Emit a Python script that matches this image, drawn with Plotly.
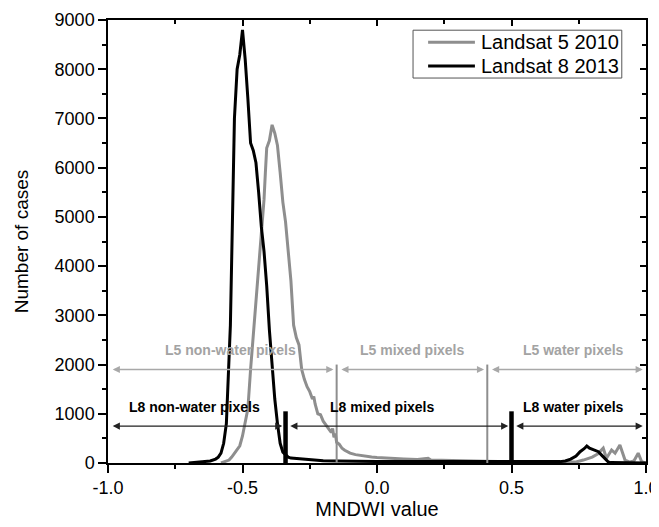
import plotly.graph_objects as go

# ---------------- data ----------------
series_names = ["Landsat 5 2010", "Landsat 8 2013"]

l8_x = [-0.70, -0.66, -0.62, -0.60, -0.59, -0.58, -0.57, -0.56, -0.55, -0.545, -0.54, -0.535, -0.53,
        -0.52, -0.51, -0.50, -0.49, -0.48, -0.47, -0.46, -0.45, -0.44, -0.43, -0.42, -0.41, -0.40,
        -0.39, -0.38, -0.37, -0.36, -0.35, -0.34, -0.33, -0.32, -0.30, -0.28, -0.25, -0.20, -0.15,
        -0.10, -0.05, 0.0, 0.1, 0.2, 0.3, 0.4, 0.5, 0.6, 0.68, 0.70, 0.72, 0.74, 0.755, 0.77, 0.78,
        0.79, 0.80, 0.81, 0.823, 0.835, 0.845, 0.853, 0.86, 0.87, 0.90, 1.0]
l8_y = [0, 15, 40, 80, 120, 200, 400, 800, 2000, 2800, 4200, 5800, 7000,
        8000, 8300, 8800, 8200, 7400, 6500, 6350, 6100, 5500, 4800, 4300, 3600, 2700,
        1900, 1300, 800, 400, 220, 160, 120, 100, 90, 70, 55, 45, 40,
        35, 32, 30, 30, 28, 28, 27, 27, 27, 28, 40, 80, 140, 230, 290, 345,
        300, 280, 265, 230, 160, 110, 60, 20, 8, 3, 0]

l5_x = [-0.58, -0.56, -0.55, -0.54, -0.53, -0.52, -0.51, -0.50, -0.49, -0.48, -0.47, -0.46, -0.45,
        -0.44, -0.43, -0.42, -0.415, -0.41, -0.40, -0.39, -0.38, -0.37, -0.36, -0.35, -0.34, -0.33,
        -0.32, -0.31, -0.30, -0.29, -0.28, -0.27, -0.26, -0.25, -0.24, -0.235, -0.23, -0.22, -0.21,
        -0.20, -0.19, -0.18, -0.17, -0.165, -0.16, -0.155, -0.15, -0.14, -0.13, -0.12, -0.11, -0.10,
        -0.08, -0.06, -0.04, -0.02, 0.0, 0.05, 0.10, 0.15, 0.19, 0.20, 0.25, 0.30, 0.35, 0.40,
        0.45, 0.50, 0.55, 0.60, 0.65, 0.70, 0.74, 0.767, 0.80, 0.82, 0.841, 0.853, 0.872, 0.885,
        0.903, 0.922, 0.94, 0.955, 0.971, 0.984, 1.0]
l5_y = [0, 30, 60, 120, 200, 280, 350, 550, 800, 1100, 1900, 2600, 3300,
        4000, 4650, 5350, 5900, 6400, 6550, 6870, 6700, 6450, 5900, 5300, 4900, 4300,
        3700, 2800, 2550, 2400, 1900, 1700, 1550, 1450, 1300, 1350, 1200, 1000, 980,
        850, 780, 700, 620, 700, 520, 600, 420, 380, 300, 260, 230, 200,
        170, 150, 130, 120, 110, 90, 80, 70, 95, 60, 50, 45, 40, 35,
        30, 30, 30, 30, 30, 20, 20, 60, 120, 180, 300, 95, 265, 200,
        365, 60, 20, 40, 200, 25, 0]

x_tickvals = [-1.0, -0.5, 0.0, 0.5, 1.0]
x_ticktext = ["-1.0", "-0.5", "0.0", "0.5", "1.0"]
y_tickvals = [0, 1000, 2000, 3000, 4000, 5000, 6000, 7000, 8000, 9000]

# class thresholds
l5_thresholds = [-0.15, 0.41]
l5_threshold_height = 2000
l8_thresholds = [-0.34, 0.50]
l8_threshold_height = 1050

# class arrows / labels
l5_arrow_y = 1900
l8_arrow_y = 750
l5_labels = ["L5 non-water pixels", "L5 mixed pixels", "L5 water pixels"]
l5_label_x = [-0.546, 0.13, 0.73]
l5_label_y = 2300
l8_labels = ["L8 non-water pixels", "L8 mixed pixels", "L8 water pixels"]
l8_label_x = [-0.677, 0.02, 0.73]
l8_label_y = 1130

GRAY = "#8e8e8e"
GRAY_TXT = "#a3a3a3"
GRAY_ARROW = "#a8a8a8"
FONT = "Arial, Liberation Sans, sans-serif"
series_colors = [GRAY, "black"]

fig = go.Figure()
fig.add_trace(go.Scatter(x=l5_x, y=l5_y, mode="lines", name=series_names[0],
                         line=dict(color=series_colors[0], width=3), showlegend=False))
fig.add_trace(go.Scatter(x=l8_x, y=l8_y, mode="lines", name=series_names[1],
                         line=dict(color=series_colors[1], width=3), showlegend=False))
# helper trace so the mirrored (inside-tick) axes render
fig.add_trace(go.Scatter(x=[0], y=[0], xaxis="x2", yaxis="y2", mode="markers",
                         marker=dict(opacity=0), showlegend=False, hoverinfo="skip"))

shapes = []
for t in l5_thresholds:
    shapes.append(dict(type="line", xref="x", yref="y", x0=t, x1=t, y0=0, y1=l5_threshold_height,
                       line=dict(color=GRAY, width=2)))
for t in l8_thresholds:
    shapes.append(dict(type="line", xref="x", yref="y", x0=t, x1=t, y0=0, y1=l8_threshold_height,
                       line=dict(color="black", width=4.5)))

annotations = []

def seg_arrows(bounds, yv, color, gap):
    for a, b in zip(bounds[:-1], bounds[1:]):
        s = a + gap
        e = b - gap
        annotations.append(dict(x=e, y=yv, ax=s, ay=yv, xref="x", yref="y", axref="x", ayref="y",
                                text="", showarrow=True, arrowhead=2, startarrowhead=2,
                                arrowside="end+start", arrowsize=1.1, arrowwidth=1.3,
                                arrowcolor=color, startarrowsize=1.1))

seg_arrows([-1.0] + l5_thresholds + [1.0], l5_arrow_y, GRAY_ARROW, 0.012)
seg_arrows([-1.0] + l8_thresholds + [1.0], l8_arrow_y, "#222222", 0.012)

for t, xv in zip(l5_labels, l5_label_x):
    annotations.append(dict(x=xv, y=l5_label_y, xref="x", yref="y", text="<b>%s</b>" % t,
                            showarrow=False, font=dict(family=FONT, size=14, color=GRAY_TXT)))
for t, xv in zip(l8_labels, l8_label_x):
    annotations.append(dict(x=xv, y=l8_label_y, xref="x", yref="y", text="<b>%s</b>" % t,
                            showarrow=False, font=dict(family=FONT, size=14, color="black")))

# compact framed legend (paper coordinates)
shapes.append(dict(type="rect", xref="paper", yref="paper", x0=0.567, x1=0.955, y0=0.869, y1=0.977,
                   line=dict(color="#555555", width=1), fillcolor="white", layer="above"))
leg_rows = [0.950, 0.896]
for name, col, yy in zip(series_names, series_colors, leg_rows):
    shapes.append(dict(type="line", xref="paper", yref="paper", x0=0.595, x1=0.682, y0=yy, y1=yy,
                       line=dict(color=col, width=3), layer="above"))
    annotations.append(dict(x=0.689, y=yy, xref="paper", yref="paper", text=name, showarrow=False,
                            xanchor="left", yanchor="middle", font=dict(family=FONT, size=20, color="black")))

axis_common = dict(showgrid=False, zeroline=False, showline=True, linecolor="black", linewidth=1.5,
                   tickcolor="black", tickwidth=1.5, automargin=False)

fig.update_layout(
    width=651, height=519,
    margin=dict(l=100, r=13, t=12, b=64, autoexpand=False),
    paper_bgcolor="white", plot_bgcolor="white",
    font=dict(family=FONT, color="black"),
    shapes=shapes, annotations=annotations,
    xaxis=dict(range=[-1, 1], tickvals=x_tickvals, ticktext=x_ticktext, ticks="outside", ticklen=8,
               minor=dict(dtick=0.25, tick0=0, ticks="outside", ticklen=4, tickcolor="black", tickwidth=1.5),
               tickfont=dict(size=18), title=dict(text="MNDWI value", font=dict(size=20), standoff=3),
               **axis_common),
    yaxis=dict(range=[0, 9000], tickvals=y_tickvals, ticks="outside", ticklen=8,
               minor=dict(dtick=500, tick0=0, ticks="outside", ticklen=4, tickcolor="black", tickwidth=1.5),
               tickfont=dict(size=18), title=dict(text="Number of cases", font=dict(size=19), standoff=21),
               **axis_common),
    xaxis2=dict(range=[-1, 1], overlaying="x", side="top", tickvals=x_tickvals, showticklabels=False,
                ticks="inside", ticklen=6,
                minor=dict(dtick=0.25, tick0=0, ticks="inside", ticklen=4, tickcolor="black", tickwidth=1.5),
                **axis_common),
    yaxis2=dict(range=[0, 9000], overlaying="y", side="right", tickvals=y_tickvals, showticklabels=False,
                ticks="inside", ticklen=6,
                minor=dict(dtick=500, tick0=0, ticks="inside", ticklen=4, tickcolor="black", tickwidth=1.5),
                **axis_common),
    showlegend=False,
)

fig.write_html("out.html")
